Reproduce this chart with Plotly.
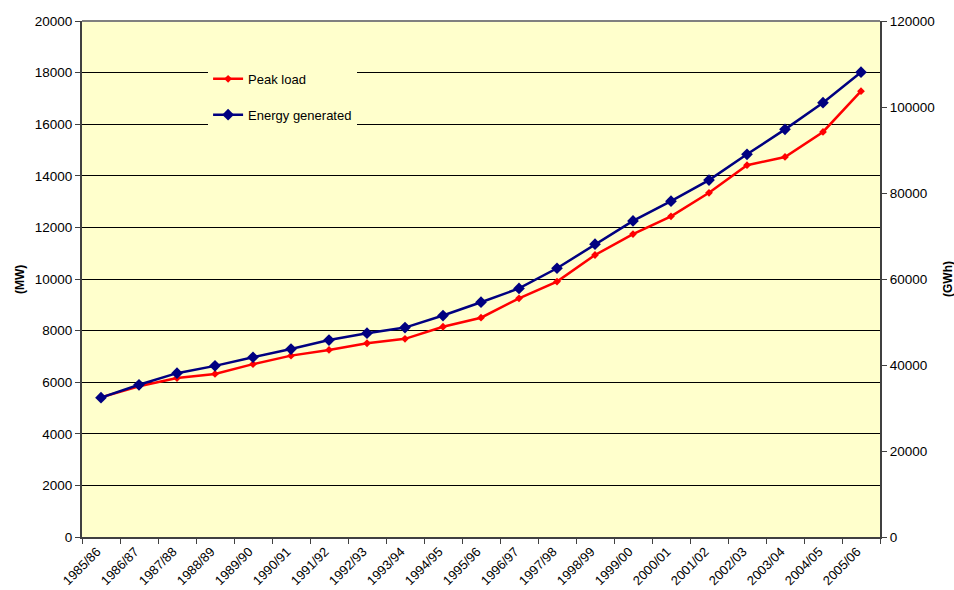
import plotly.graph_objects as go

years = ["1985/86", "1986/87", "1987/88", "1988/89", "1989/90", "1990/91",
         "1991/92", "1992/93", "1993/94", "1994/95", "1995/96", "1996/97",
         "1997/98", "1998/99", "1999/00", "2000/01", "2001/02", "2002/03",
         "2003/04", "2004/05", "2005/06"]

# Peak load in MW (left axis)
peak_load_mw = [5410, 5840, 6160, 6320, 6700, 7030, 7250, 7510, 7680, 8150,
                8500, 9250, 9900, 10930, 11740, 12430, 13340, 14410, 14730,
                15700, 17280]

# Energy generated in GWh (right axis)
energy_gwh = [32400, 35400, 38100, 39800, 41800, 43700, 45800, 47400, 48700,
              51500, 54600, 57800, 62500, 68100, 73500, 78100, 83000, 89000,
              94800, 101000, 108100]

left_ticks = [0, 2000, 4000, 6000, 8000, 10000, 12000, 14000, 16000, 18000, 20000]
left_tick_text = [str(v) for v in left_ticks]
right_ticks = [0, 20000, 40000, 60000, 80000, 100000, 120000]
right_tick_text = [str(v) for v in right_ticks]

FONT = "Liberation Sans, Arial, sans-serif"

fig = go.Figure()

fig.add_trace(go.Scatter(
    x=years, y=peak_load_mw, name="Peak load", mode="lines+markers",
    line=dict(color="#FF0000", width=2.5),
    marker=dict(symbol="diamond", size=6, color="#FF0000"),
    legendgroup="a",
))
fig.add_trace(go.Scatter(
    x=years, y=energy_gwh, name="Energy generated", mode="lines+markers",
    yaxis="y2",
    line=dict(color="#000080", width=2.5),
    marker=dict(symbol="diamond", size=9, color="#000080"),
    legendgroup="b",
))

fig.update_layout(
    template="none",
    width=954, height=590,
    margin=dict(l=82, r=74, t=21, b=52.5, autoexpand=False),
    paper_bgcolor="white",
    plot_bgcolor="#FFFFCC",
    font=dict(family=FONT, size=13, color="black"),
    showlegend=True,
    legend=dict(
        x=0.158, y=0.917, xanchor="left", yanchor="top",
        bgcolor="#FFFFCC", borderwidth=0,
        font=dict(family=FONT, size=13, color="black"),
        tracegroupgap=16, itemwidth=30,
    ),
    xaxis=dict(
        type="category", range=[-0.5, 20.5],
        tickson="boundaries", ticks="outside", ticklen=5,
        tickcolor="#404040", tickwidth=1,
        showline=True, linecolor="#404040", linewidth=2,
        showgrid=False, tickangle=-45, automargin=False,
        ticklabelshift=-4,
        tickfont=dict(family=FONT, size=13),
    ),
    yaxis=dict(
        range=[0, 20000], tickvals=left_ticks, ticktext=left_tick_text,
        ticks="outside", ticklen=5, tickcolor="#404040",
        showline=True, linecolor="#404040", linewidth=2,
        showgrid=True, gridcolor="black", gridwidth=1,
        zeroline=False, automargin=False,
        tickfont=dict(family=FONT, size=13.5),
    ),
    yaxis2=dict(
        range=[0, 120000], tickvals=right_ticks, ticktext=right_tick_text,
        overlaying="y", side="right",
        ticks="outside", ticklen=5, tickcolor="#404040",
        showline=True, linecolor="#404040", linewidth=2,
        showgrid=False, zeroline=False, automargin=False,
        tickfont=dict(family=FONT, size=13.5),
    ),
    shapes=[dict(
        type="line", xref="paper", yref="paper", x0=0, x1=1, y0=1, y1=1,
        line=dict(color="#808080", width=2), layer="above",
    )],
    annotations=[
        dict(text="<b>(MW)</b>", xref="paper", yref="paper",
             x=-0.0777, y=0.5, xanchor="center", yanchor="middle",
             textangle=-90, showarrow=False,
             font=dict(family=FONT, size=12)),
        dict(text="<b>(GWh)</b>", xref="paper", yref="paper",
             x=1.0852, y=0.5, xanchor="center", yanchor="middle",
             textangle=-90, showarrow=False,
             font=dict(family=FONT, size=12)),
    ],
)

fig.write_html("out.html")
